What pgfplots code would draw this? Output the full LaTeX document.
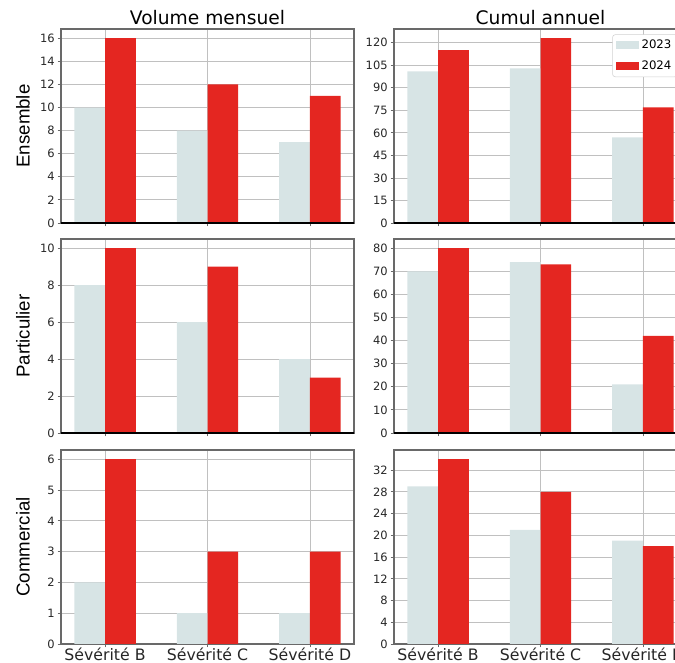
\documentclass[border=0pt]{standalone}
\usepackage{fontspec}
\setmainfont{DejaVu Sans}
\newfontfamily\rowfont{Liberation Sans}
\usepackage{pgfplots}
\pgfplotsset{compat=1.18}
\definecolor{cA}{RGB}{215,228,229}
\definecolor{cB}{RGB}{228,38,33}
\definecolor{spine}{RGB}{105,105,105}
\definecolor{gridc}{RGB}{192,192,192}

\pgfplotsset{
 panel/.style={
  scale only axis, width=219.75pt, height=145.5pt,
  xmin=-0.43, xmax=2.43, ymin=0,
  xtick={0,1,2},
  tick pos=left, tick align=outside,
  major tick length=2.6pt,
  every tick/.style={spine, line width=0.6pt},
  grid=major, major grid style={gridc, line width=0.6pt},
  axis line style={spine, line width=0.9pt},
  /pgf/number format/assume math mode=true,
  yticklabel style={font=\fontsize{8.6}{10}\selectfont, text=black!85, inner sep=2pt},
  xticklabel style={font=\fontsize{11.8}{14}\selectfont, text=black!85, inner sep=0pt},
  title style={font=\fontsize{14}{16}\selectfont, inner sep=2pt, yshift=-5pt},
  ylabel style={font=\rowfont\fontsize{14}{16}\selectfont, at={(axis description cs:-0.13,0.5)}, anchor=center},
 },
 blackbottom/.style={
  after end axis/.code={\draw[black, line width=0.9pt] (rel axis cs:0,0) -- (rel axis cs:1,0);}
 },
 barA/.style={ybar, bar width=0.3, bar shift=-0.15, fill=cA, draw=none,
   legend image code/.code={\fill[cA, sharp corners] (0pt,-3pt) rectangle (17.25pt,3pt);}},
 barB/.style={ybar, bar width=0.3, bar shift=0.15, fill=cB, draw=none,
   legend image code/.code={\fill[cB, sharp corners] (0pt,-3pt) rectangle (17.25pt,3pt);}},
}

\begin{document}
\begin{tikzpicture}
% Row 1 left
\begin{axis}[panel, blackbottom, at={(45.75pt,330pt)}, anchor=south west,
  ymax=16.8, ytick={0,2,...,16}, xticklabels={},
  title={Volume mensuel}, ylabel={Ensemble}]
\addplot[barA] coordinates {(0,10) (1,8) (2,7)};
\addplot[barB] coordinates {(0,16) (1,12) (2,11)};
\end{axis}
% Row 1 right
\begin{axis}[panel, blackbottom, at={(295.5pt,330pt)}, anchor=south west,
  ymax=129.15, ytick={0,15,...,120}, xticklabels={},
  title={Cumul annuel},
  legend style={at={(0.745,0.972)}, anchor=north west,
    font=\fontsize{8.8}{10}\selectfont, draw=black!18, rounded corners=2pt,
    inner xsep=2.5pt, inner ysep=2pt, row sep=3.5pt, fill=white},
  legend cell align=left]
\addplot[barA] coordinates {(0,101) (1,103) (2,57)};
\addplot[barB] coordinates {(0,115) (1,123) (2,77)};
\legend{2023,2024}
\end{axis}
% Row 2 left
\begin{axis}[panel, blackbottom, at={(45.75pt,172.5pt)}, anchor=south west,
  ymax=10.5, ytick={0,2,...,10}, xticklabels={},
  ylabel={Particulier}]
\addplot[barA] coordinates {(0,8) (1,6) (2,4)};
\addplot[barB] coordinates {(0,10) (1,9) (2,3)};
\end{axis}
% Row 2 right
\begin{axis}[panel, blackbottom, at={(295.5pt,172.5pt)}, anchor=south west,
  ymax=84, ytick={0,10,...,80}, xticklabels={}]
\addplot[barA] coordinates {(0,70) (1,74) (2,21)};
\addplot[barB] coordinates {(0,80) (1,73) (2,42)};
\end{axis}
% Row 3 left
\begin{axis}[panel, at={(45.75pt,14.25pt)}, anchor=south west,
  ymax=6.3, ytick={0,1,...,6},
  xticklabels={Sévérité B, Sévérité C, Sévérité D},
  ylabel={Commercial}]
\addplot[barA] coordinates {(0,2) (1,1) (2,1)};
\addplot[barB] coordinates {(0,6) (1,3) (2,3)};
\end{axis}
% Row 3 right
\begin{axis}[panel, at={(295.5pt,14.25pt)}, anchor=south west,
  ymax=35.7, ytick={0,4,...,32},
  xticklabels={Sévérité B, Sévérité C, Sévérité D}]
\addplot[barA] coordinates {(0,29) (1,21) (2,19)};
\addplot[barB] coordinates {(0,34) (1,28) (2,18)};
\end{axis}
\pgfresetboundingbox
\useasboundingbox (0pt,0pt) rectangle (506.25pt,497.25pt);
\end{tikzpicture}
\end{document}
